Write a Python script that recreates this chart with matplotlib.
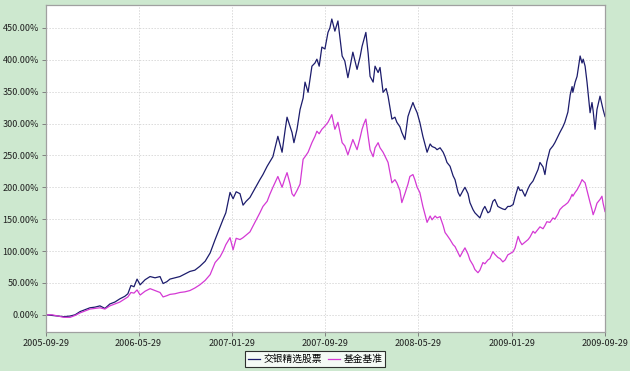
import pandas as pd
import matplotlib.pyplot as plt
import matplotlib.dates as mdates
from matplotlib.ticker import FuncFormatter

plt.rcParams['font.family'] = ['Noto Sans CJK SC', 'DejaVu Sans']

start = pd.Timestamp("2005-09-29")

# days since 2005-09-29
days = [0, 16, 31, 47, 63, 76, 89, 102, 115, 128, 141, 154, 167, 180, 193, 206,
        214, 222, 230, 238, 246, 259, 272, 285, 298, 306, 316, 324, 337, 350, 363,
        376, 389, 402, 416, 429, 442, 455, 463, 470, 481, 489, 497, 507, 515, 523,
        533, 546, 559, 567, 578, 585, 593, 606, 617, 625, 630, 638, 643, 648, 656,
        664, 672, 677, 685, 695, 703, 708, 714, 721, 729, 737, 742, 747, 755, 763,
        774, 781, 789, 795, 802, 813, 821, 826, 831, 836, 842, 847, 855, 860, 868,
        873, 881, 889, 894, 904, 912, 917, 925, 930, 938, 946, 951, 959, 964, 970,
        977, 985, 996, 1004, 1009, 1017, 1022, 1030, 1038, 1043, 1048, 1056, 1064,
        1069, 1077, 1082, 1090, 1095, 1103, 1108, 1116, 1121, 1129, 1134, 1142,
        1147, 1155, 1160, 1168, 1173, 1181, 1187, 1194, 1200, 1207, 1213, 1221,
        1226, 1234, 1239, 1244, 1252, 1260, 1265, 1273, 1278, 1286, 1291, 1299,
        1304, 1309, 1317, 1325, 1330, 1338, 1343, 1351, 1356, 1364, 1370, 1375,
        1377, 1383, 1388, 1396, 1401, 1404, 1409, 1414, 1422, 1427, 1430, 1435,
        1440, 1448, 1453, 1456, 1461]

# cumulative return, %
fund = [0, -1, -2, -3, -2, 0, 5, 8, 11, 12, 14, 10, 17, 20, 25, 29,
        33, 46, 44, 56, 47, 55, 60, 58, 60, 49, 52, 56, 58, 60, 64,
        68, 70, 76, 84, 97, 118, 138, 150, 160, 192, 182, 193, 190, 172, 178,
        184, 198, 212, 220, 233, 240, 248, 280, 255, 290, 310, 295, 286, 270, 291,
        322, 340, 365, 349, 390, 395, 401, 390, 420, 417, 443, 450, 464, 445, 461,
        406, 398, 372, 390, 412, 385, 405, 421, 432, 443, 410, 374, 365, 390, 380,
        388, 349, 355, 343, 307, 310, 302, 295, 286, 275, 311, 320, 333, 325, 317,
        302, 280, 255, 268, 264, 262, 259, 262, 255, 248, 239, 233, 218,
        212, 192, 186, 195, 200, 190, 176, 165, 160, 155, 152, 165,
        170, 160, 162, 178, 181, 170, 168, 166, 165, 170, 170, 173,
        185, 201, 195, 196, 186, 198, 204, 210, 217, 228, 239, 232,
        220, 240, 259, 265, 270, 280, 286, 295, 302, 318, 345, 358,
        349, 365, 374, 406, 395, 401, 390, 365, 317, 333, 320, 291,
        322, 343, 330, 322, 311]

bench = [0, 0, -2, -4, -4, -1, 3, 6, 9, 10, 11, 9, 14, 17, 20, 25,
         28, 35, 34, 39, 31, 37, 41, 38, 35, 28, 30, 32, 33, 35, 36,
         38, 42, 47, 54, 63, 82, 91, 100, 110, 121, 102, 120, 118, 121, 125,
         130, 145, 160, 170, 178, 189, 200, 217, 200, 215, 223, 205, 190, 186, 195,
         205, 244, 248, 255, 270, 280, 288, 284, 291, 296, 302, 308, 314, 291, 302,
         270, 265, 251, 262, 275, 259, 278, 291, 300, 307, 280, 259, 248, 262, 270,
         262, 255, 245, 239, 207, 212, 207, 195, 176, 190, 205, 217, 220, 212, 200,
         192, 170, 145, 155, 149, 155, 152, 154, 140, 129, 125, 118, 110,
         107, 97, 91, 100, 105, 95, 86, 78, 71, 66, 70, 82,
         80, 86, 88, 99, 95, 90, 88, 83, 86, 94, 96, 99,
         105, 123, 115, 110, 114, 118, 122, 131, 128, 134, 138, 135,
         140, 146, 145, 152, 150, 158, 165, 170, 172, 176, 182, 189,
         186, 192, 196, 205, 212, 210, 207, 195, 176, 165, 157, 165,
         175, 181, 186, 175, 162]

tick_dates = ["2005-09-29", "2006-05-29", "2007-01-29", "2007-09-29",
              "2008-05-29", "2009-01-29", "2009-09-29"]

dates = [start + pd.Timedelta(days=d) for d in days]

bg = "#cde8cf"
fig = plt.figure(figsize=(6.3, 3.71), dpi=100, facecolor=bg)
ax = fig.add_axes([46 / 630, 1 - 332 / 371, 559 / 630, 327 / 371])
ax.set_facecolor("white")

ax.plot(dates, fund, color="#1c1c6c", linewidth=0.9, label="交银精选股票")
ax.plot(dates, bench, color="#d439d4", linewidth=0.9, label="基金基准")

ax.set_xlim(pd.Timestamp(tick_dates[0]), pd.Timestamp(tick_dates[-1]))
ax.set_ylim(-27, 486)
ax.set_xticks([pd.Timestamp(t) for t in tick_dates])
ax.xaxis.set_major_formatter(mdates.DateFormatter("%Y-%m-%d"))
ax.set_yticks(range(0, 451, 50))
ax.yaxis.set_major_formatter(FuncFormatter(lambda v, p: f"{v:.2f}%"))

# light dotted grid
ax.grid(True, color="#dadada", linestyle=(0, (1.5, 1.5)), linewidth=0.7)
ax.tick_params(labelsize=6.5, length=3, width=0.7, color="#808080", pad=2,
               labelcolor="#202020")
for side in ["left", "bottom", "right", "top"]:
    ax.spines[side].set_color("#a0a0a0")
    ax.spines[side].set_linewidth(0.9)

# legend sits below the axes, centred
leg = ax.legend(loc="upper center", bbox_to_anchor=(315 / 630, 20 / 371),
                bbox_transform=fig.transFigure, ncol=2, fontsize=7,
                frameon=True, fancybox=False, edgecolor="black",
                handlelength=1.3, handletextpad=0.3, columnspacing=0.6,
                borderpad=0.3, borderaxespad=0)
leg.get_frame().set_linewidth(0.8)

fig.savefig("out.png", dpi=100, facecolor=bg)
